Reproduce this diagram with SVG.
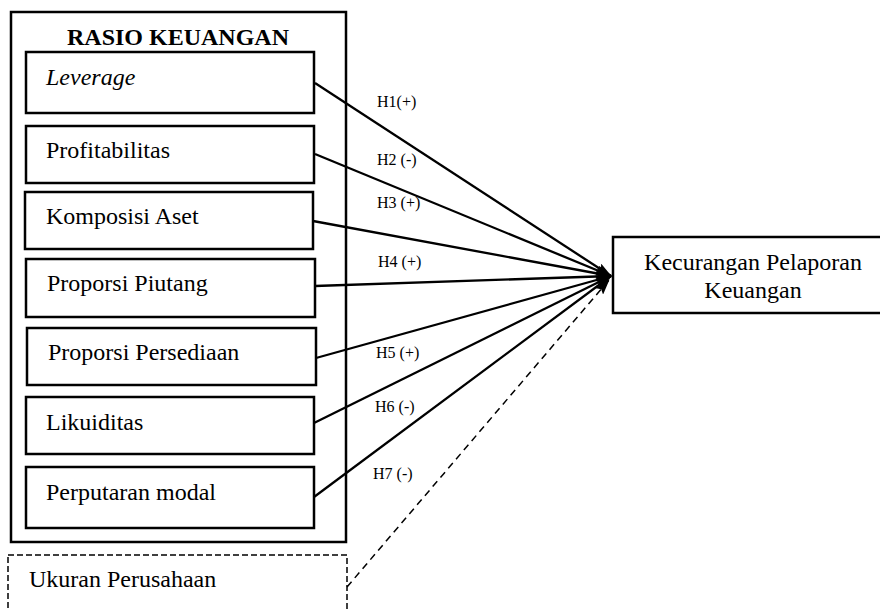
<svg xmlns="http://www.w3.org/2000/svg" width="880" height="610" viewBox="0 0 880 610">
<defs>
<style>
.box{fill:#fff;stroke:#000;stroke-width:2.5}
.dbox{fill:none;stroke:#000;stroke-width:1.5;stroke-dasharray:6 3}
.t{font-family:"Liberation Serif","Times New Roman",serif;font-size:24px;fill:#000}
.lbl{font-family:"Liberation Serif","Times New Roman",serif;font-size:16px;fill:#000}
.c{stroke:#000;stroke-width:2.3;fill:none}
.cd{stroke:#000;stroke-width:1.5;fill:none;stroke-dasharray:7 5}
</style>
<marker id="ah" markerUnits="userSpaceOnUse" markerWidth="16" markerHeight="10" refX="15" refY="5" orient="auto">
<path d="M0,0 L16,5 L0,10 L3,5 z" fill="#000"/>
</marker>
</defs>
<rect width="880" height="610" fill="#fff"/>
<g id="rasio-keuangan">
<rect x="11" y="12" width="335" height="530" fill="none" stroke="#000" stroke-width="2.5"/>
<text class="t" x="178" y="45" text-anchor="middle" font-weight="bold">RASIO KEUANGAN</text>
</g>
<g id="leverage"><rect class="box" x="26" y="52" width="288" height="61"/><text class="t" x="46" y="85" font-style="italic">Leverage</text></g>
<g id="profitabilitas"><rect class="box" x="26" y="126" width="288" height="57"/><text class="t" x="46" y="158">Profitabilitas</text></g>
<g id="komposisi-aset"><rect class="box" x="25" y="192" width="288" height="57"/><text class="t" x="46" y="224">Komposisi Aset</text></g>
<g id="proporsi-piutang"><rect class="box" x="26" y="259" width="289" height="58"/><text class="t" x="47" y="291">Proporsi Piutang</text></g>
<g id="proporsi-persediaan"><rect class="box" x="27" y="328" width="289" height="57"/><text class="t" x="48" y="360">Proporsi Persediaan</text></g>
<g id="likuiditas"><rect class="box" x="26" y="397" width="288" height="57"/><text class="t" x="46" y="430">Likuiditas</text></g>
<g id="perputaran-modal"><rect class="box" x="26" y="467" width="288" height="61"/><text class="t" x="46" y="500">Perputaran modal</text></g>
<g id="ukuran-perusahaan"><rect class="dbox" x="8" y="555" width="339" height="70"/><text class="t" x="29" y="587">Ukuran Perusahaan</text></g>
<g id="kecurangan"><rect class="box" x="613" y="237" width="272" height="76"/><text class="t" x="753" y="270" text-anchor="middle">Kecurangan Pelaporan</text><text class="t" x="753" y="298" text-anchor="middle">Keuangan</text></g>
<g id="connectors">
<line class="c" x1="315" y1="83" x2="611" y2="276" marker-end="url(#ah)"/>
<line class="c" x1="315" y1="154" x2="611" y2="276" marker-end="url(#ah)"/>
<line class="c" x1="313" y1="221" x2="611" y2="276" marker-end="url(#ah)"/>
<line class="c" x1="315" y1="286" x2="611" y2="276" marker-end="url(#ah)"/>
<line class="c" x1="316" y1="358" x2="611" y2="276" marker-end="url(#ah)"/>
<line class="c" x1="314" y1="423" x2="611" y2="276" marker-end="url(#ah)"/>
<line class="c" x1="314" y1="497" x2="611" y2="276" marker-end="url(#ah)"/>
<line class="cd" x1="347" y1="587" x2="609" y2="280" marker-end="url(#ah)"/>
<text class="lbl" x="377" y="107">H1(+)</text>
<text class="lbl" x="377" y="165">H2 (-)</text>
<text class="lbl" x="377" y="208">H3 (+)</text>
<text class="lbl" x="378" y="267">H4 (+)</text>
<text class="lbl" x="376" y="358">H5 (+)</text>
<text class="lbl" x="375" y="412">H6 (-)</text>
<text class="lbl" x="373" y="479">H7 (-)</text>
</g>
</svg>
